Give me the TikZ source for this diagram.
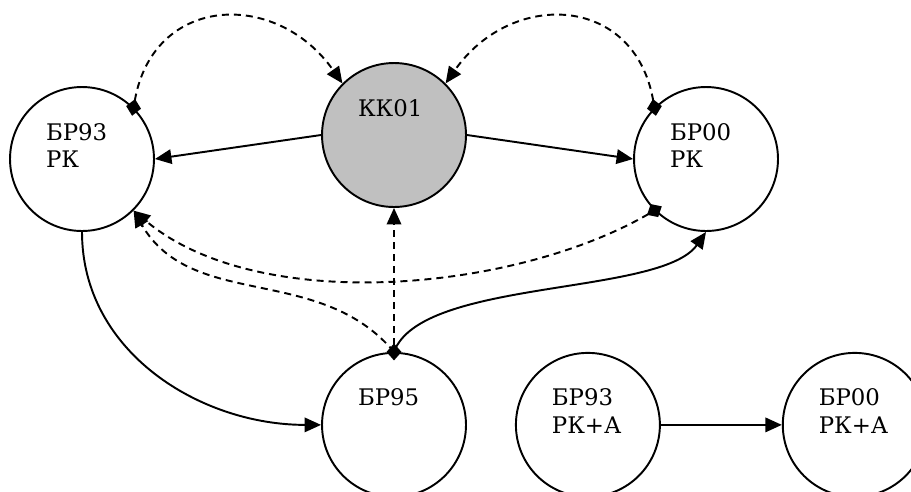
\documentclass[tikz,border=0pt]{standalone}
\usepackage{fontspec}
\setmainfont{DejaVu Serif}
\usetikzlibrary{arrows.meta,positioning}
\definecolor{kkgrey}{HTML}{C0C0C0}

\begin{document}
\begin{tikzpicture}[
    x=0.02cm, y=0.02cm,
    state/.style={circle, draw=black, line width=1.1pt, minimum size=2.88cm, inner sep=0pt,
        text width=1.44cm, align=left, text height=0.34cm, text depth=1.1cm,
        font=\fontsize{13}{15.9}\selectfont},
    link/.style={line width=1.1pt, -{Triangle[length=0.33cm,width=0.29cm]}},
    dep/.style={link, dash pattern=on 0.14cm off 0.1cm},
    src/.style={{Diamond[length=0.34cm,width=0.3cm]}-{Triangle[length=0.33cm,width=0.29cm]}, shorten <=-0.17cm}
]
\useasboundingbox (0,0) rectangle (911,-491);
\clip (0,0) rectangle (911,-491);

% States
\node[state, fill=kkgrey] (kk01) at (394,-135) {КК01};
\node[state] (br93rk) at (82,-159) {БР93\\РК};
\node[state] (br00rk) at (706,-159) {БР00\\РК};
\node[state] (br95) [below=2.88cm of kk01] {БР95};
\node[state] (br93rka) [right=0.96cm of br95] {БР93\\РК+А};
\node[state] (br00rka) [right=2.42cm of br93rka] {БР00\\РК+А};

% Solid links
\draw[link] (kk01.west) -- (br93rk.east);
\draw[link] (kk01.east) -- (br00rk.west);
\draw[link] (br93rk.south) to[out=-90, in=180] (br95.west);
\draw[link] (br95.north) to[out=70, in=235, looseness=0.6] (br00rk.south);
\draw[link] (br93rka) -- (br00rka);

% Dashed links
\draw[dep, src] (br93rk.45) to[out=80, in=125, looseness=1.4] (kk01.135);
\draw[dep, src] (br00rk.135) to[out=100, in=55, looseness=1.4] (kk01.45);
\draw[dep, src] (br00rk.225) to[out=210, in=-40, looseness=0.8] (br93rk.-45);
\draw[dep] (br95.north) to[out=130, in=-60] (br93rk.-45);
\draw[dep, src] (br95.north) -- (kk01.south);

\end{tikzpicture}
\end{document}
